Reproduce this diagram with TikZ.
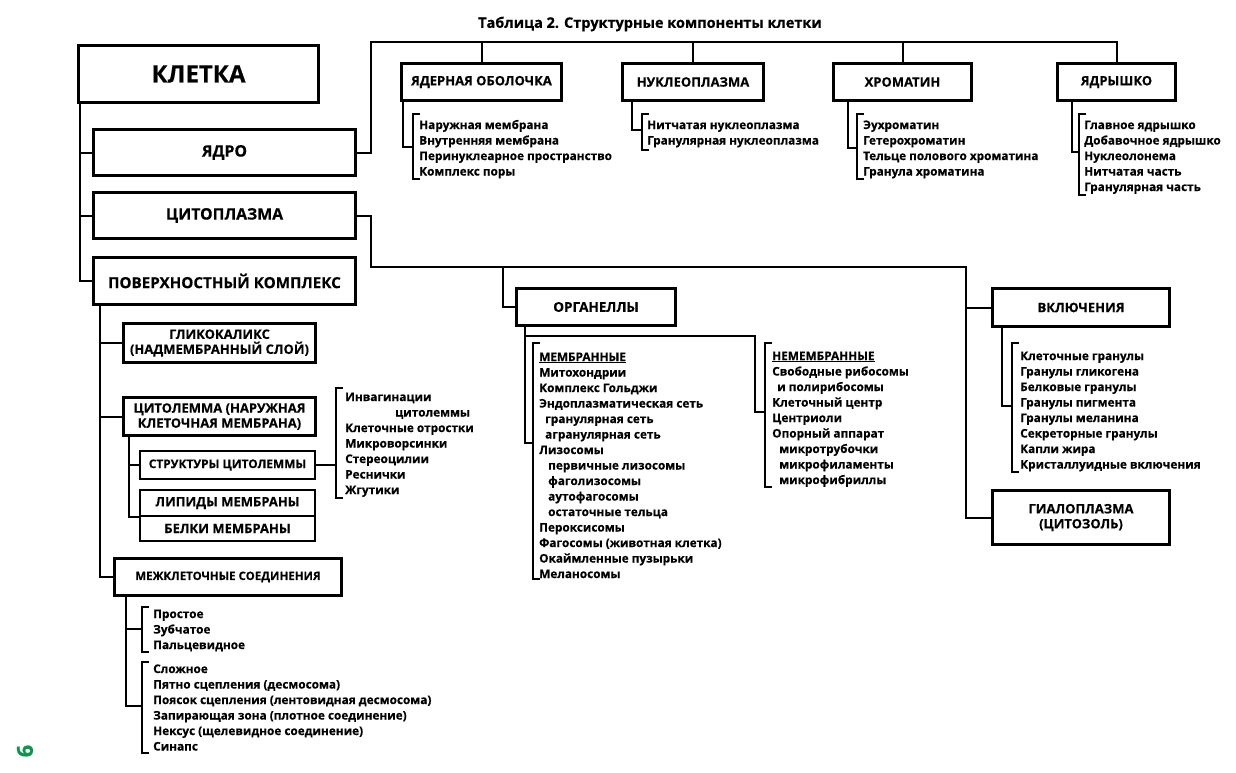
\documentclass[tikz,border=0pt]{standalone}
\usepackage{fontspec}
\setmainfont{Open Sans}[BoldFeatures={FakeBold=0.4}]
\usetikzlibrary{calc}
\definecolor{pagegreen}{RGB}{10,150,75}
\newcommand\mybracket[2]{\draw[conn] (#1) ++(7,0) -- (#1) -- (#2) -- ++(7,0);}
\newcommand\mylist[5]{\foreach \t [count=\i from 0] in {#5} {\node[item] (#1-\i) at (#2, {#3+#4*\i}) {\t};}}
\begin{document}
\begin{tikzpicture}[x=1pt,y=-1pt,
  conn/.style={line width=2pt},
  box/.style={draw, line width=3pt, inner sep=0pt, align=center, font=\bfseries\fontsize{13}{15}\selectfont},
  sbox/.style={box, line width=2.5pt},
  lvl/.style={box, minimum width=262, minimum height=46, font=\bfseries\fontsize{15.8}{20}\selectfont},
  item/.style={inner sep=0pt, anchor=base west, font=\bfseries\fontsize{11.8}{14}\selectfont},
]
\useasboundingbox (0,0) rectangle (1236,772);

\node[font=\bfseries\fontsize{14.5}{16}\selectfont] (title) at (650,24) {Таблица 2. Структурные компоненты клетки};

% main boxes
\node[box, line width=3.5pt, minimum width=240, minimum height=57, font=\bfseries\fontsize{24}{28}\selectfont] (klet) at (198.5,74) {КЛЕТКА};
\node[lvl] (yadro) at (224.5,152.5) {ЯДРО};
\node[lvl] (cyto) at (224.5,215.5) {ЦИТОПЛАЗМА};
\node[lvl, minimum height=47, font=\bfseries\fontsize{15.2}{20}\selectfont] (pov) at (224.5,281) {ПОВЕРХНОСТНЫЙ КОМПЛЕКС};

% nucleus boxes
\node[box, minimum width=160, minimum height=37] (yob) at (481.5,82) {ЯДЕРНАЯ ОБОЛОЧКА};
\node[box, minimum width=141, minimum height=37] (nukl) at (693,82) {НУКЛЕОПЛАЗМА};
\node[box, minimum width=138, minimum height=37] (hrom) at (902.5,82) {ХРОМАТИН};
\node[box, minimum width=118, minimum height=37] (yadr) at (1116.5,82) {ЯДРЫШКО};

% cytoplasm boxes
\node[box, minimum width=159, minimum height=37, font=\bfseries\fontsize{13.5}{15}\selectfont] (org) at (596,307) {ОРГАНЕЛЛЫ};
\node[box, minimum width=177, minimum height=38] (vkl) at (1081,307.5) {ВКЛЮЧЕНИЯ};
\node[box, minimum width=177, minimum height=54] (gial) at (1081,517.5) {ГИАЛОПЛАЗМА\\(ЦИТОЗОЛЬ)};

% surface complex boxes
\node[box, minimum width=192, minimum height=39] (glik) at (219.5,343) {ГЛИКОКАЛИКС\\(НАДМЕМБРАННЫЙ СЛОЙ)};
\node[box, minimum width=192, minimum height=38] (cytol) at (219.5,416.5) {ЦИТОЛЕММА (НАРУЖНАЯ\\КЛЕТОЧНАЯ МЕМБРАНА)};
\node[sbox, minimum width=175, minimum height=28, font=\bfseries\fontsize{11.9}{14}\selectfont] (struct) at (227.5,465) {СТРУКТУРЫ ЦИТОЛЕММЫ};
\node[sbox, minimum width=175, minimum height=26] (lip) at (227.5,503) {ЛИПИДЫ МЕМБРАНЫ};
\node[sbox, minimum width=175, minimum height=25] (belk) at (227.5,528.5) {БЕЛКИ МЕМБРАНЫ};
\node[box, minimum width=227, minimum height=37, font=\bfseries\fontsize{11.5}{14}\selectfont] (mezh) at (228,577) {МЕЖКЛЕТОЧНЫЕ СОЕДИНЕНИЯ};

% ---- connectors: cell
\coordinate (kS) at (80,104);
\draw[conn] (kS) |- (pov.west);
\draw[conn] (yadro.west) -- (yadro.west -| kS);
\draw[conn] (cyto.west) -- (cyto.west -| kS);

% nucleus
\coordinate (nT) at (371,42);
\draw[conn] (yadro.east) -| (nT) -| (yadr.north);
\foreach \n in {yob,nukl,hrom} \draw[conn] (\n.north) -- (\n.north |- nT);

% cytoplasm
\coordinate (cA) at (371,267);
\coordinate (cB) at (966,267);
\coordinate (cC) at (503,267);
\draw[conn] (cyto.east) -| (cA) -- (cB) |- (gial.west);
\draw[conn] (cB) |- (vkl.west);
\draw[conn] (cC) |- (org.west);

% surface complex
\coordinate (pS) at (100,306);
\draw[conn] (pS) |- (mezh.west);
\draw[conn] (glik.west) -- (glik.west -| pS);
\draw[conn] (cytol.west) -- (cytol.west -| pS);
\coordinate (cS) at (129,437);
\draw[conn] (cS) |- (lip.south west);
\draw[conn] (struct.west) -- (struct.west -| cS);

% ---- lists: nucleus
\coordinate (yoS) at (403,102); \coordinate (yoT) at (413,114); \coordinate (yoB) at (413,179);
\draw[conn] (yoS) |- (413,147);
\mybracket{yoT}{yoB}
\mylist{yo}{419}{129}{15.5}{Наружная мембрана,Внутренняя мембрана,Перинуклеарное пространство,Комплекс поры}

\coordinate (nuS) at (632,102); \coordinate (nuT) at (642,114); \coordinate (nuB) at (642,150);
\draw[conn] (nuS) |- (642,130);
\mybracket{nuT}{nuB}
\mylist{nu}{647}{129}{15.5}{Нитчатая нуклеоплазма,Гранулярная нуклеоплазма}

\coordinate (hrS) at (848,102); \coordinate (hrT) at (857,114); \coordinate (hrB) at (857,179);
\draw[conn] (hrS) |- (857,148);
\mybracket{hrT}{hrB}
\mylist{hr}{863}{129}{15.5}{Эухроматин,Гетерохроматин,Тельце полового хроматина,Гранула хроматина}

\coordinate (ydS) at (1072,102); \coordinate (ydT) at (1079,114); \coordinate (ydB) at (1079,195);
\draw[conn] (ydS) |- (1079,152);
\mybracket{ydT}{ydB}
\mylist{yd}{1084}{129}{15.5}{Главное ядрышко,Добавочное ядрышко,Нуклеолонема,Нитчатая часть,Гранулярная часть}

% ---- lists: organelles
\coordinate (oS) at (525,327);
\coordinate (mbT) at (533,343); \coordinate (mbB) at (533,579);
\draw[conn] (oS) |- (533,443);
\mybracket{mbT}{mbB}
\mylist{mb}{539}{361}{15.5}{{\underline{МЕМБРАННЫЕ}},Митохондрии,Комплекс Гольджи,Эндоплазматическая сеть,{\hspace*{6pt}гранулярная сеть},{\hspace*{6pt}агранулярная сеть},Лизосомы,{\hspace*{9pt}первичные лизосомы},{\hspace*{9pt}фаголизосомы},{\hspace*{9pt}аутофагосомы},{\hspace*{9pt}остаточные тельца},Пероксисомы,Фагосомы (животная клетка),Окаймленные пузырьки,Меланосомы}

\coordinate (oR) at (755,336);
\coordinate (nmT) at (765,343); \coordinate (nmB) at (765,487);
\draw[conn] (oS |- oR) -- (oR) |- (765,412);
\mybracket{nmT}{nmB}
\mylist{nm}{772}{360}{15.5}{{\underline{НЕМЕМБРАННЫЕ}},Свободные рибосомы,{\hspace*{5pt}и полирибосомы},Клеточный центр,Центриоли,Опорный аппарат,{\hspace*{7pt}микротрубочки},{\hspace*{7pt}микрофиламенты},{\hspace*{7pt}микрофибриллы}}

% ---- inclusions
\coordinate (vS) at (1002,328); \coordinate (vkT) at (1012,343); \coordinate (vkB) at (1012,472);
\draw[conn] (vS) |- (1012,406);
\mybracket{vkT}{vkB}
\mylist{vk}{1020}{360}{15.5}{Клеточные гранулы,Гранулы гликогена,Белковые гранулы,Гранулы пигмента,Гранулы меланина,Секреторные гранулы,Капли жира,Кристаллуидные включения}

% ---- structures of cytolemma
\coordinate (sbT) at (336,388); \coordinate (sbB) at (336,498);
\draw[conn] (struct.east) -- (struct.east -| sbT);
\mybracket{sbT}{sbB}
\mylist{sb}{345}{401}{15.5}{Инвагинации,{\hspace*{50pt}цитолеммы},Клеточные отростки,Микроворсинки,Стереоцилии,Реснички,Жгутики}

% ---- intercellular junctions
\coordinate (mS) at (126,597);
\coordinate (m1T) at (142,607); \coordinate (m1B) at (142,652);
\coordinate (m2T) at (142,662); \coordinate (m2B) at (142,753);
\draw[conn] (mS) |- (142,706);
\draw[conn] (142,629) -- (126,629);
\mybracket{m1T}{m1B}
\mybracket{m2T}{m2B}
\mylist{ma}{153}{618}{15.5}{Простое,Зубчатое,Пальцевидное}
\mylist{mc}{153}{673}{15.5}{Сложное,Пятно сцепления (десмосома),Поясок сцепления (лентовидная десмосома),Запирающая зона (плотное соединение),Нексус (щелевидное соединение),Синапс}

% page number
\node[rotate=-90, text=pagegreen, font=\bfseries\fontsize{22}{24}\selectfont] (pgnum) at (25,751) {9};
\end{tikzpicture}
\end{document}
